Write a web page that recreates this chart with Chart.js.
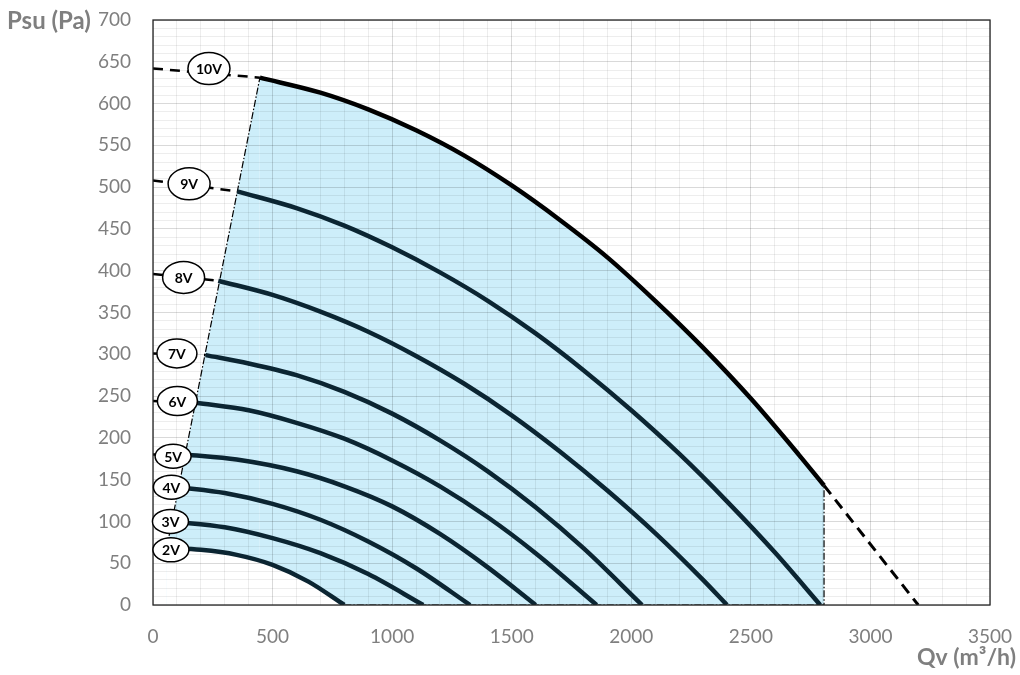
<!DOCTYPE html>
<html lang="en">
<head>
    <meta charset="UTF-8">
    <title>Fan curves Psu / Qv</title>
    <script src="https://cdn.jsdelivr.net/npm/chart.js"></script>
    <style>
        body { margin: 0; background: #fff; }
        #wrap { width: 1020px; height: 675px; }
    </style>
</head>
<body>
<div id="wrap"><canvas id="fanChart" width="1020" height="675"></canvas></div>
<script>
    // curves: [Qv m3/h, Psu Pa]
    const curve2V = [[57, 68], [200, 66], [350, 60], [500, 48], [650, 28], [800, 0]];
    const curve3V = [[79, 100], [300, 93], [500, 80], [700, 62], [900, 37], [1130, 0]];
    const curve4V = [[108, 141], [300, 134], [500, 121], [700, 102], [900, 76], [1100, 44], [1326, 0]];
    const curve5V = [[134, 180], [350, 174], [600, 160], [800, 142], [1000, 118], [1200, 85], [1400, 45], [1600, 0]];
    const curve6V = [[180, 242], [400, 233], [600, 218], [800, 199], [1000, 173], [1200, 142], [1400, 105], [1600, 62], [1855, 0]];
    const curve7V = [[220, 299], [400, 289], [600, 275], [800, 255], [1000, 229], [1200, 197], [1400, 160], [1600, 117],
        [1800, 68], [2045, 0]];
    const curve8V = [[273, 388], [500, 371], [700, 351], [900, 327], [1100, 298], [1300, 265], [1500, 227], [1700, 184],
        [1900, 137], [2100, 86], [2300, 30], [2400, 0]];
    const curve9V = [[352, 495], [600, 475], [800, 454], [1000, 428], [1200, 398], [1400, 364], [1600, 325], [1800, 281],
        [2000, 233], [2200, 181], [2400, 124], [2600, 63], [2790, 0]];
    const curve10V = [[447, 631], [700, 613], [900, 593], [1100, 568], [1300, 538], [1500, 502], [1700, 461], [1900, 416],
        [2100, 364], [2300, 308], [2500, 247], [2700, 180], [2806, 143]];
    const tail10V = [[2806, 143], [3200, 0]];

    const curveNames = ['2V', '3V', '4V', '5V', '6V', '7V', '8V', '9V', '10V'];
    const curves = [curve2V, curve3V, curve4V, curve5V, curve6V, curve7V, curve8V, curve9V, curve10V];
    // pressure at Qv = 0 (dashed lead-in)
    const startP = [68, 100, 141, 180, 244, 301, 396, 508, 642];
    // label bubbles
    const labelQ = [75, 73, 77, 84, 102, 100, 128, 151, 234];
    const labelP = [66, 100, 141, 178, 244, 301, 392, 504, 642];

    // working-area limits
    const limitLeft = [[57, 68], [447, 631]];
    const limitRight = [[800, 0], [2806, 0], [2806, 143]];

    const xMax = 3500, xStep = 100, xMajor = 500;
    const yMax = 700, yStep = 10, yMajor = 50;

    const areaBlue = '#cdeefa';
    const pts = arr => arr.map(p => ({x: p[0], y: p[1]}));

    const datasets = [];
    curves.forEach((c, i) => {
        // 10V fills the working area down to 0, 2V clears the part under it
        let fill = false;
        if (i === 8) fill = {target: 'origin', above: areaBlue, below: areaBlue};
        if (i === 0) fill = {target: 'origin', above: '#fff', below: '#fff'};
        datasets.push({
            data: pts(c), borderColor: i === 8 ? '#000' : '#0b2532', borderWidth: 4.5,
            pointRadius: 0, fill: fill, cubicInterpolationMode: 'monotone',
            order: i === 0 ? 0 : 1
        });
        datasets.push({
            data: pts([[0, startP[i]], c[0]]), borderColor: '#000', borderWidth: 2.5,
            borderDash: [10, 7], pointRadius: 0, fill: false, order: 5
        });
    });
    datasets.push({
        data: pts(tail10V), borderColor: '#000', borderWidth: 3,
        borderDash: [11, 7], pointRadius: 0, fill: false, order: 5
    });
    datasets.push({
        data: pts(limitLeft), borderColor: '#000', borderWidth: 1.2,
        borderDash: [7, 2, 1.5, 2], pointRadius: 0, order: 4,
        fill: {target: 'origin', above: areaBlue, below: areaBlue}
    });
    datasets.push({
        data: pts(limitRight), borderColor: '#000', borderWidth: 1.2,
        borderDash: [7, 2, 1.5, 2], pointRadius: 0, fill: false, order: 4
    });

    const overlay = {
        id: 'overlay',
        afterDatasetsDraw(chart) {
            const {ctx, chartArea: a, scales: {x, y}} = chart;
            ctx.save();
            ctx.strokeStyle = '#262626';
            ctx.lineWidth = 1.3;
            ctx.strokeRect(a.left, a.top, a.width, a.height);

            curveNames.forEach((name, i) => {
                const cx = x.getPixelForValue(labelQ[i]);
                const cy = y.getPixelForValue(labelP[i]);
                const rx = i >= 6 ? 21 : i >= 4 ? 20 : 18;
                const ry = i >= 6 ? 16 : i >= 4 ? 14.5 : 12;
                ctx.beginPath();
                ctx.ellipse(cx, cy, rx, ry, 0, 0, Math.PI * 2);
                ctx.fillStyle = '#fff';
                ctx.fill();
                ctx.lineWidth = 1.5;
                ctx.strokeStyle = '#000';
                ctx.stroke();
                ctx.fillStyle = '#000';
                ctx.font = 'bold 14px Lato';
                ctx.textAlign = 'center';
                ctx.textBaseline = 'middle';
                ctx.fillText(name, cx, cy + 1);
            });

            ctx.fillStyle = '#7f7f7f';
            ctx.font = 'bold 24px Lato';
            ctx.textBaseline = 'middle';
            ctx.textAlign = 'left';
            ctx.fillText('Psu (Pa)', 7, a.top + 1);
            ctx.font = 'bold 23px Lato';
            ctx.textAlign = 'right';
            ctx.fillText('Qv (m³/h)', chart.width - 4, 658);
            ctx.restore();
        }
    };

    new Chart(document.getElementById('fanChart'), {
        type: 'line',
        data: {datasets: datasets},
        options: {
            responsive: false,
            animation: false,
            layout: {padding: {top: 20, right: 30, left: 0, bottom: 0}},
            plugins: {
                legend: {display: false},
                tooltip: {enabled: false},
                filler: {drawTime: 'beforeDraw'}
            },
            scales: {
                x: {
                    type: 'linear', min: 0, max: xMax,
                    afterFit(s) { s.height = 70; s.paddingLeft = 0; s.paddingRight = 0; },
                    border: {display: false},
                    grid: {
                        drawTicks: false,
                        color: c => c.tick.value % xMajor === 0 ? 'rgba(0,0,0,0.15)' : 'rgba(0,0,0,0.07)'
                    },
                    ticks: {
                        stepSize: xStep, autoSkip: false, maxRotation: 0, padding: 20,
                        color: '#7f7f7f', font: {family: 'Lato', size: 19},
                        callback: v => v % xMajor === 0 ? v : ''
                    }
                },
                y: {
                    min: 0, max: yMax,
                    afterFit(s) { s.width = 153; s.paddingTop = 0; s.paddingBottom = 0; },
                    border: {display: false},
                    grid: {
                        drawTicks: false,
                        color: c => c.tick.value % yMajor === 0 ? 'rgba(0,0,0,0.15)' : 'rgba(0,0,0,0.07)'
                    },
                    ticks: {
                        stepSize: yStep, autoSkip: false, padding: 22,
                        color: '#7f7f7f', font: {family: 'Lato', size: 19},
                        callback: v => v % yMajor === 0 ? v : ''
                    }
                }
            }
        },
        plugins: [overlay]
    });
</script>
</body>
</html>
